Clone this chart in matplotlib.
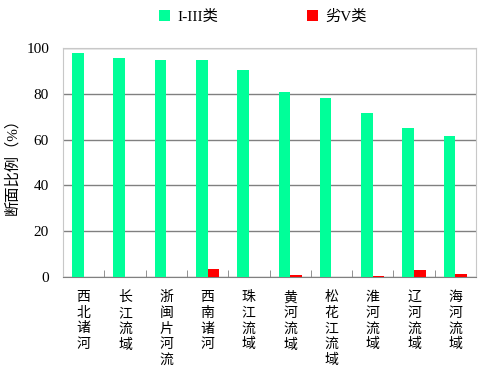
import numpy as np
import matplotlib
matplotlib.use("Agg")
import matplotlib.pyplot as plt

plt.rcParams['font.family'] = ['Liberation Serif', 'Noto Sans CJK SC', 'DejaVu Sans']

basins = ["西北诸河", "长江流域", "浙闽片河流", "西南诸河", "珠江流域",
          "黄河流域", "松花江流域", "淮河流域", "辽河流域", "海河流域"]
good = [98.0, 95.6, 94.8, 94.8, 90.4, 80.6, 78.2, 71.6, 64.9, 61.7]
bad = [0.0, 0.0, 0.0, 3.3, 0.0, 0.9, 0.0, 0.4, 3.0, 1.3]
series_names = ["I-III类", "劣V类"]
colors = ["#00FF99", "#FF0000"]

fig = plt.figure(figsize=(4.9, 3.81), dpi=100)
ax = fig.add_axes([63/490, 1 - 277/381, 413/490, 229/381])

x = np.arange(len(basins))
w = 0.28
ax.bar(x - w/2, good, w, color=colors[0], label=series_names[0], zorder=3)
ax.bar(x + w/2, bad, w, color=colors[1], label=series_names[1], zorder=3)

ax.set_xlim(-0.5, len(basins) - 0.5)
ax.set_ylim(0, 100)
ax.set_yticks(range(0, 101, 20))
ax.yaxis.grid(True, color="#808080", lw=1, zorder=0)
ax.tick_params(axis="y", length=0, labelsize=11, pad=10)

# category boundary ticks
ax.set_xticks(np.arange(-0.5, len(basins) - 0.5, 1), minor=True)
ax.set_xticks(x)
ax.set_xticklabels(["\n".join(b) for b in basins], fontsize=10,
                   va="top", linespacing=1.28)
ax.tick_params(axis="x", which="major", length=0, pad=10)
ax.tick_params(axis="x", which="minor", direction="in", length=5,
               color="#808080")

for s in ["top", "right", "left"]:
    ax.spines[s].set_color("#c8c8c8")
ax.spines["bottom"].set_color("#808080")

ax.set_ylabel("断面比例（%）", fontsize=11, labelpad=5)

fig.legend(loc="upper center", bbox_to_anchor=(0.537, 1.01), ncol=2,
           frameon=False, fontsize=11, handlelength=0.7, handleheight=0.7,
           columnspacing=5.8, handletextpad=0.5)

fig.savefig("out.png", dpi=100)
